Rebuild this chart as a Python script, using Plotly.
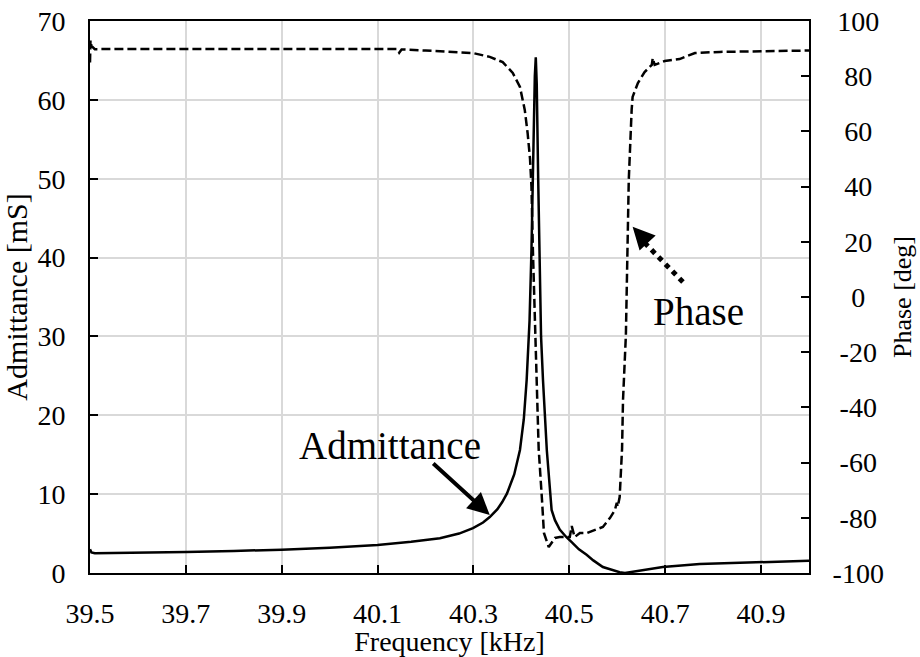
import plotly.graph_objects as go

# ---- data ----
adm_freq = [39.500, 39.503, 39.510, 39.600, 39.700, 39.800, 39.900, 40.000, 40.100, 40.170,
            40.230, 40.270, 40.299, 40.320, 40.334, 40.350, 40.360, 40.370, 40.385, 40.397,
            40.405, 40.411, 40.417, 40.421, 40.425, 40.428, 40.430, 40.432, 40.435, 40.438,
            40.441, 40.445, 40.453, 40.463, 40.470, 40.480, 40.493, 40.507, 40.520, 40.536,
            40.550, 40.570, 40.590, 40.605, 40.616, 40.650, 40.695, 40.772, 40.850, 40.930,
            41.000]
adm_vals = [3.0, 2.6, 2.5, 2.55, 2.65, 2.8, 2.95, 3.2, 3.55, 3.95,
            4.4, 5.0, 5.7, 6.4, 7.1, 8.1, 9.0, 10.1, 12.5, 15.6,
            19.5, 24.5, 32, 41, 55, 63, 65.4, 62, 50, 38,
            30, 24.5, 15.6, 8.0, 6.7, 5.5, 4.6, 3.8, 3.0, 2.3,
            1.6, 0.76, 0.35, 0.1, 0.0, 0.35, 0.76, 1.14, 1.3, 1.45,
            1.55]

ph_freq = [39.500, 39.501, 39.503, 39.510, 39.600, 39.800, 40.000, 40.140, 40.145, 40.150,
           40.200, 40.250, 40.299, 40.334, 40.361, 40.382, 40.397, 40.407, 40.413, 40.418,
           40.421, 40.424, 40.432, 40.436, 40.443, 40.447, 40.457, 40.470, 40.480, 40.501,
           40.505, 40.511, 40.522, 40.537, 40.570, 40.585, 40.595, 40.599, 40.601, 40.605,
           40.610, 40.612, 40.618, 40.624, 40.630, 40.632, 40.643, 40.657, 40.672, 40.674,
           40.678, 40.699, 40.730, 40.745, 40.762, 40.814, 41.000]
ph_vals = [85, 93, 91, 89.8, 89.9, 89.9, 89.9, 89.9, 88.5, 89.7,
           89.3, 88.9, 88.4, 87.0, 85.1, 81.2, 76.1, 67.8, 59.4, 50,
           40, 17, -30, -55, -73.6, -85.5, -90.6, -87.3, -87, -87,
           -83, -87, -85.5, -85.5, -83.3, -80, -77.2, -74.6, -76, -72.5,
           -55, -37.3, -13.8, 42.4, 67.8, 72.5, 77.5, 81.5, 84.1, 86.6,
           84.1, 85.5, 86.2, 87.3, 88.4, 88.8, 89.3]

x_ticks = [39.5, 39.7, 39.9, 40.1, 40.3, 40.5, 40.7, 40.9]
x_tick_text = ["39.5", "39.7", "39.9", "40.1", "40.3", "40.5", "40.7", "40.9"]
y_ticks = [0, 10, 20, 30, 40, 50, 60, 70]
y2_ticks = [-100, -80, -60, -40, -20, 0, 20, 40, 60, 80, 100]
# right-axis labels with plain hyphens; leading thin spaces visually centre them
y2_tick_text = ["-100", "\u2005-80", "\u2005-60", "\u2005-40", "\u2005-20", "\u2007\u20060",
                "\u2005\u200620", "\u2005\u200640", "\u2005\u200660", "\u2005\u200680", "\u2006100"]

FONT = "Liberation Serif"

fig = go.Figure()
fig.add_trace(go.Scatter(x=adm_freq, y=adm_vals, mode="lines", name="Admittance",
                         line=dict(color="black", width=2.5), yaxis="y"))
fig.add_trace(go.Scatter(x=ph_freq, y=ph_vals, mode="lines", name="Phase",
                         line=dict(color="black", width=2.5, dash="9px,4px"), yaxis="y2"))

axis_common = dict(showline=True, linecolor="black", linewidth=2,
                   tickfont=dict(family=FONT, size=28, color="black"),
                   ticks="inside", ticklen=8, tickcolor="black", tickwidth=1.5,
                   zeroline=False, automargin=False)

fig.update_layout(
    width=920, height=657,
    margin=dict(l=90, r=111, t=21, b=84, autoexpand=False),
    paper_bgcolor="white", plot_bgcolor="white",
    showlegend=False,
    font=dict(family=FONT, color="black"),
    xaxis=dict(range=[39.5, 41.0], tickvals=x_ticks, ticktext=x_tick_text,
               showgrid=True, gridcolor="#d9d9d9", gridwidth=2, mirror=True,
               ticklabelstandoff=14,
               title=dict(text="Frequency [kHz]", font=dict(family=FONT, size=28), standoff=2),
               **axis_common),
    yaxis=dict(range=[0, 70], tickvals=y_ticks, showgrid=True, gridcolor="#d9d9d9", gridwidth=2,
               ticklabelstandoff=17,
               title=dict(text="Admittance [mS]", font=dict(family=FONT, size=30), standoff=8),
               **axis_common),
    yaxis2=dict(range=[-100, 100], tickvals=y2_ticks, ticktext=y2_tick_text,
                overlaying="y", side="right",
                showgrid=False, ticklabelstandoff=16,
                title=dict(text="Phase [deg]", font=dict(family=FONT, size=26), standoff=10),
                **axis_common),
)

# Admittance label + solid arrow
fig.add_annotation(x=40.126, y=16.2, xref="x", yref="y", text="Admittance", showarrow=False,
                   font=dict(family=FONT, size=39, color="black"))
fig.add_annotation(x=40.334, y=7.35, xref="x", yref="y", text="", showarrow=True,
                   ax=-58, ay=-53, arrowhead=2, arrowsize=1.1, arrowwidth=4, arrowcolor="black")

# Phase label + dotted arrow
fig.add_annotation(x=40.769, y=33.1, xref="x", yref="y", text="Phase", showarrow=False,
                   font=dict(family=FONT, size=39, color="black"))
fig.add_shape(type="line", xref="x", yref="y", x0=40.737, y0=36.9, x1=40.655, y1=42.0,
              line=dict(color="black", width=5, dash="dot"))
fig.add_annotation(x=40.632, y=43.9, xref="x", yref="y", text="", showarrow=True,
                   ax=14, ay=15, arrowhead=2, arrowsize=1.1, arrowwidth=4, arrowcolor="black")

fig.write_html("out.html", config={"displayModeBar": False},
               post_script="document.body.style.margin='0';")
